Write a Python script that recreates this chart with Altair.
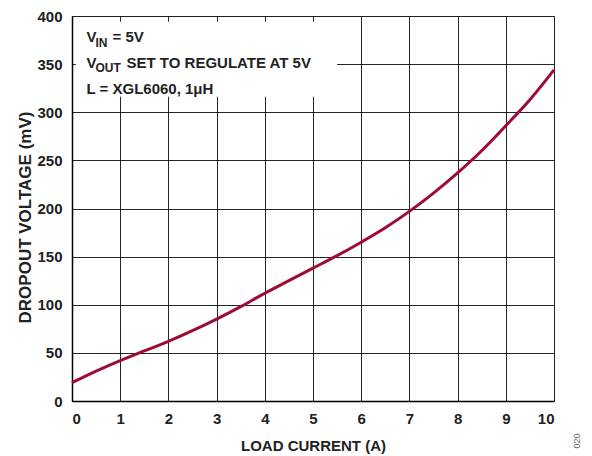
import altair as alt
import pandas as pd

# data
load_current = [0, 0.5, 1, 1.5, 2, 2.5, 3, 3.5, 4, 4.5, 5, 5.5, 6, 6.5, 7, 7.5, 8, 8.5, 9, 9.5, 10]
dropout_mv = [19, 31, 42, 52, 62, 73, 85, 98, 112, 125, 138, 151, 165, 180, 197, 216, 237, 260, 286, 313, 344]

x_ticks = list(range(0, 11))
y_ticks = list(range(0, 401, 50))

df = pd.DataFrame({"x": load_current, "y": dropout_mv})

FONT = "Liberation Sans"
RED = "#9E0B34"
INK = "#222222"

xscale = alt.Scale(domain=[0, 10], nice=False, zero=False)
yscale = alt.Scale(domain=[0, 400], nice=False, zero=False)

line = alt.Chart(df).mark_line(color=RED, strokeWidth=3, interpolate="monotone").encode(
    x=alt.X("x:Q", scale=xscale,
            axis=alt.Axis(title="LOAD CURRENT (A)", values=x_ticks, format="d",
                          grid=True, gridColor="#000000", gridWidth=1, gridOpacity=0.85,
                          ticks=False, domainColor="#000000", domainWidth=1.5,
                          labelFont=FONT, labelFontSize=15, labelFontWeight="bold",
                          labelColor=INK, labelPadding=10,
                          titleFont=FONT, titleFontSize=15, titleFontWeight="bold",
                          titleColor=INK, titlePadding=12)),
    y=alt.Y("y:Q", scale=yscale,
            axis=alt.Axis(title="DROPOUT VOLTAGE (mV)", values=y_ticks, format="d",
                          grid=True, gridColor="#000000", gridWidth=1, gridOpacity=0.85,
                          ticks=False, domainColor="#000000", domainWidth=1.5,
                          labelFont=FONT, labelFontSize=15, labelFontWeight="bold",
                          labelColor=INK, labelPadding=10,
                          titleFont=FONT, titleFontSize=17, titleFontWeight="bold",
                          titleColor=INK, titleX=-38, titleY=201)),
)

# annotation box
box_df = pd.DataFrame({"x": [0.08], "x2": [5.5], "y": [316], "y2": [394]})
box = alt.Chart(box_df).mark_rect(color="white").encode(
    x=alt.X("x:Q", scale=xscale), x2="x2:Q",
    y=alt.Y("y:Q", scale=yscale), y2="y2:Q",
)

main_texts = pd.DataFrame({
    "t": ["V", "= 5V", "V", "SET TO REGULATE AT 5V", "L = XGL6060, 1\u03bcH"],
    "px": [14.5, 40.5, 14.5, 54.5, 14.5],
    "py": [25.7, 25.7, 51.7, 51.7, 78],
})
sub_texts = pd.DataFrame({
    "t": ["IN", "OUT"],
    "px": [23.5, 23.5],
    "py": [30.7, 56.3],
})

txt_main = alt.Chart(main_texts).mark_text(
    align="left", baseline="alphabetic", font=FONT, fontSize=15, fontWeight="bold", color=INK
).encode(x=alt.X("px:Q", scale=None), y=alt.Y("py:Q", scale=None), text="t:N")

txt_sub = alt.Chart(sub_texts).mark_text(
    align="left", baseline="alphabetic", font=FONT, fontSize=12, fontWeight="bold", color=INK
).encode(x=alt.X("px:Q", scale=None), y=alt.Y("py:Q", scale=None), text="t:N")

code_df = pd.DataFrame({"t": ["020"], "px": [505], "py": [425]})
code = alt.Chart(code_df).mark_text(
    font=FONT, fontSize=9, color="#666666", angle=270, align="center", baseline="middle"
).encode(x=alt.X("px:Q", scale=None), y=alt.Y("py:Q", scale=None), text="t:N")

chart = alt.layer(box, line, txt_main, txt_sub, code).properties(
    width=482, height=385,
    padding={"left": 64, "top": 8, "right": 30, "bottom": 55},
    autosize=alt.AutoSizeParams(type="none"),
).configure_view(stroke="#000000", strokeWidth=1.5).configure(background="white")

chart.save("out.html", embed_options={"renderer": "svg", "actions": False})
